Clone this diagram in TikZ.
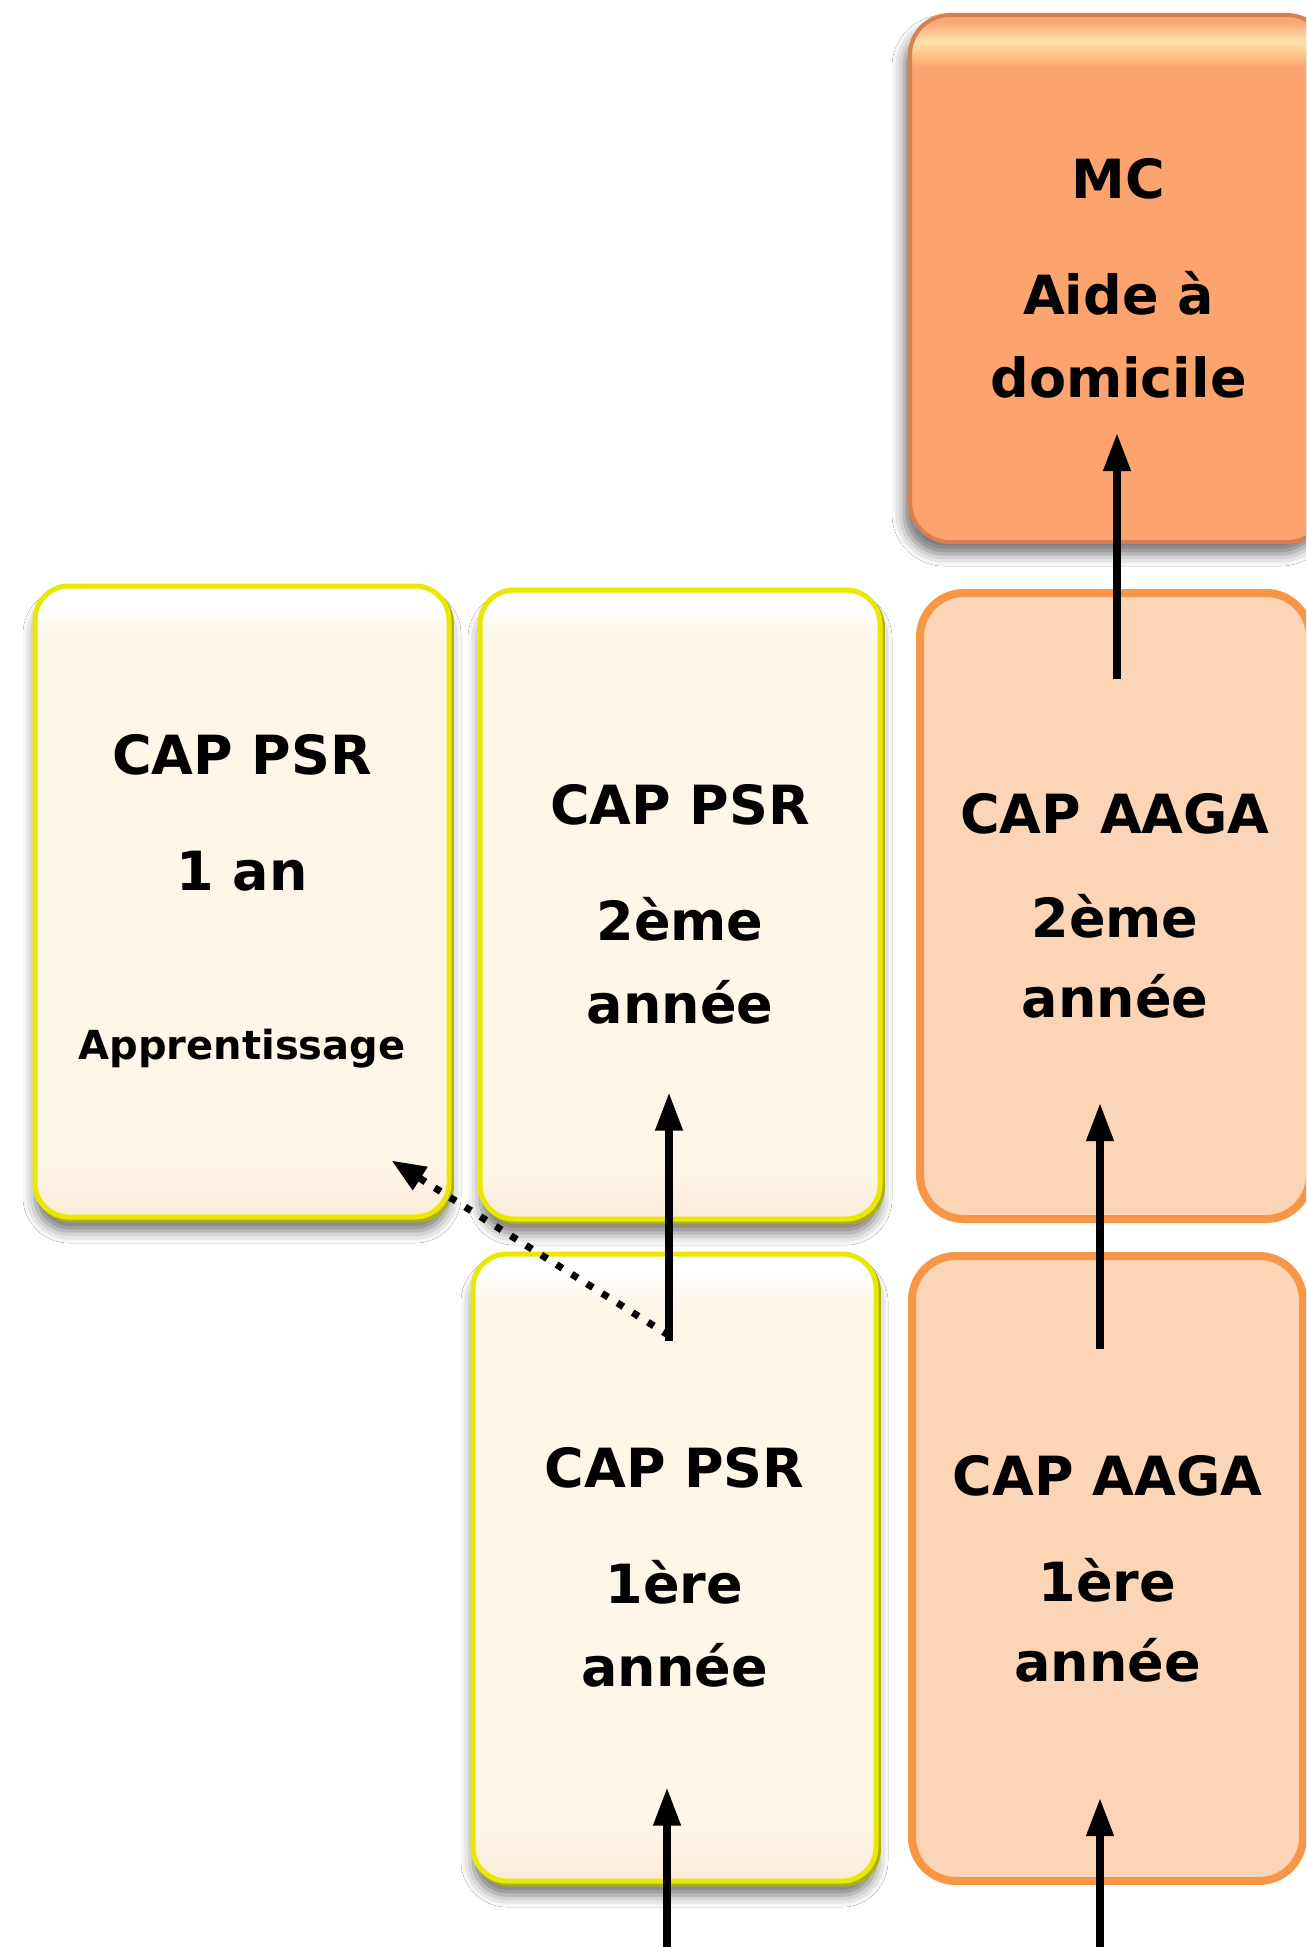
\documentclass[tikz,border=0pt]{standalone}
\usepackage{fontspec}
\setmainfont{DejaVu Sans}
\usetikzlibrary{arrows.meta,calc,shadows.blur}
\definecolor{psrC}{RGB}{254,246,231}
\definecolor{psrB}{RGB}{252,234,218}
\definecolor{psrY}{RGB}{232,232,0}
\definecolor{psrO}{RGB}{175,175,20}
\definecolor{aagaF}{RGB}{251,213,181}
\definecolor{aagaD}{RGB}{247,150,70}
\definecolor{mcC}{RGB}{252,163,110}
\definecolor{mcL}{RGB}{254,226,170}
\definecolor{mcD}{RGB}{214,128,84}
\pgfdeclareverticalshading{psrshade}{100bp}{color(0bp)=(psrB); color(25bp)=(psrB); color(29bp)=(psrC); color(71bp)=(psrC); color(73.5bp)=(white); color(75bp)=(white); color(100bp)=(white)}
\pgfdeclareverticalshading{mcshade}{100bp}{color(0bp)=(mcC); color(25bp)=(mcC); color(70bp)=(mcC); color(72.5bp)=(mcL); color(74.5bp)=(mcC); color(100bp)=(mcC)}
\tikzset{
  boxtext/.style={align=center, inner sep=0pt, text=black, font=\bfseries\fontsize{27}{41.6}\selectfont},
  psrbox/.style={boxtext, rectangle, rounded corners=17pt, draw=psrY, line width=2.5pt, shading=psrshade,
    blur shadow={shadow xshift=0pt, shadow yshift=-7pt, shadow blur radius=6pt, shadow opacity=55},
    preaction={draw=psrO, line width=2.5pt, transform canvas={xshift=1.2pt,yshift=-1.4pt}}},
  aagabox/.style={boxtext, rectangle, rounded corners=22pt, draw=aagaD, fill=aagaF, line width=4pt,
    font=\bfseries\fontsize{27}{40}\selectfont},
  mcbox/.style={boxtext, rectangle, rounded corners=20pt, draw=mcD, line width=2pt, shading=mcshade,
    blur shadow={shadow xshift=-3pt, shadow yshift=-6pt, shadow blur radius=6pt, shadow opacity=55}},
  arr/.style={line width=3.6pt, -{Triangle[length=19pt,width=13pt]}},
  dotarr/.style={line width=3.5pt, dash pattern=on 3.5pt off 5.5pt, -{Triangle[length=17pt,width=13pt]}}
}
\begin{document}
\begin{tikzpicture}[x=0.5pt,y=-0.5pt]
\clip (0,0) rectangle (1306,1947);
\fill[white] (0,0) rectangle (1306,1947);
% boxes
\node[mcbox, minimum width=208.5pt, minimum height=263.5pt] (mc) at (1118.5,278.5)
  {MC\\[16.4pt]Aide à\\domicile};
\node[psrbox, minimum width=207pt, minimum height=315.5pt] (psran) at (242,901.5)
  {CAP PSR\\[16.4pt]1 an\\[42.8pt]{\fontsize{20}{41.6}\selectfont Apprentissage}};
\node[psrbox, minimum width=200pt, minimum height=314.5pt] (psr2) at (680,904.5)
  {CAP PSR\\[16.4pt]2ème\\année};
\node[psrbox, minimum width=201.5pt, minimum height=313.5pt] (psr1) at (674.5,1567.5)
  {CAP PSR\\[16.4pt]1ère\\année};
\node[aagabox, minimum width=195pt, minimum height=313pt] (aaga2) at (1115,906)
  {CAP AAGA\\[12pt]2ème\\année};
\node[aagabox, minimum width=195.5pt, minimum height=312.5pt] (aaga1) at (1107.5,1568.5)
  {CAP AAGA\\[13pt]1ère\\année};
% free ends
\coordinate (inpsr) at (667,1960);
\coordinate (inaaga) at (1100,1960);
% connectors
\draw[dotarr] ($(psr1.north)+(-5.5,84)$) -- ($(psran.south east)+(-60,-59)$);
\draw[arr] ($(psr1.north)+(-5.5,89)$) -- ($(psr2.south)+(-11,-129)$);
\draw[arr] ($(aaga1.north)+(-7.5,97)$) -- ($(aaga2.south)+(-15,-120)$);
\draw[arr] ($(aaga2.north)+(2,90)$) -- ($(mc.south)+(-1.5,-111)$);
\draw[arr] (inpsr) -- ($(psr1.south)+(-7.5,-96)$);
\draw[arr] (inaaga) -- ($(aaga1.south)+(-7.5,-87)$);
\end{tikzpicture}
\end{document}
